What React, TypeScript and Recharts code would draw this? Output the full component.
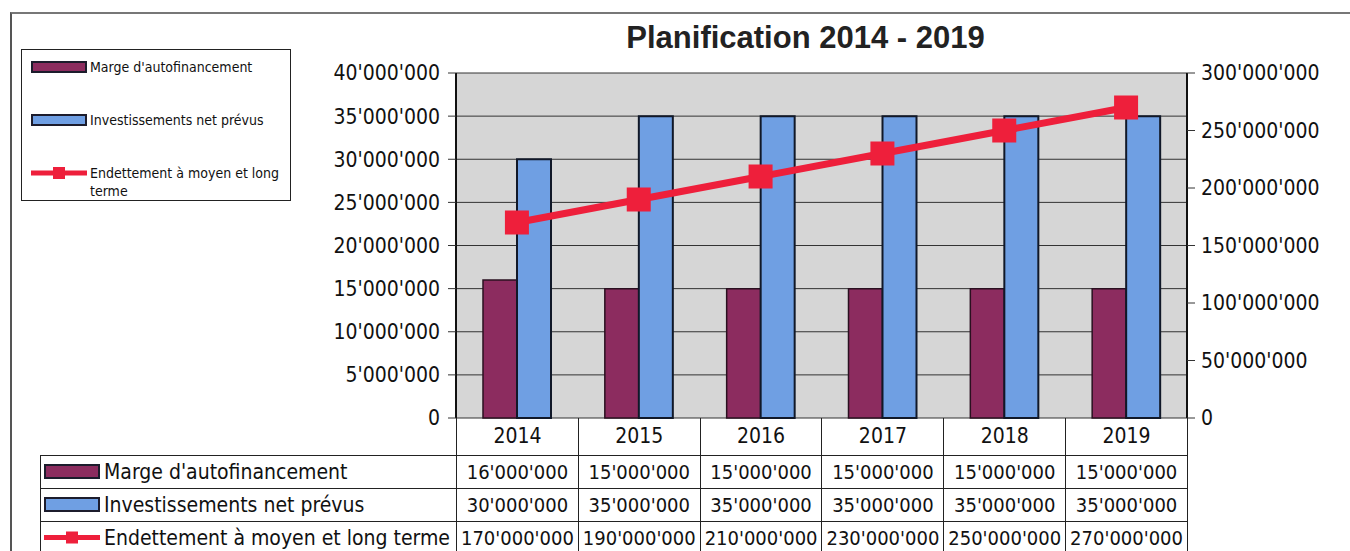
import React from 'react';
import { ComposedChart, Bar, Line, XAxis, YAxis, CartesianGrid } from 'recharts';

const years = ['2014', '2015', '2016', '2017', '2018', '2019'];
const marge = [16000000, 15000000, 15000000, 15000000, 15000000, 15000000];
const investissements = [30000000, 35000000, 35000000, 35000000, 35000000, 35000000];
const endettement = [170000000, 190000000, 210000000, 230000000, 250000000, 270000000];
const leftTicks = [0, 5000000, 10000000, 15000000, 20000000, 25000000, 30000000, 35000000, 40000000];
const rightTicks = [0, 50000000, 100000000, 150000000, 200000000, 250000000, 300000000];

const series = [
  { key: 'marge', name: "Marge d'autofinancement", color: '#8c2c5f', kind: 'bar', values: marge },
  { key: 'invest', name: 'Investissements net prévus', color: '#6f9fe3', kind: 'bar', values: investissements },
  { key: 'endet', name: 'Endettement à moyen et long terme', color: '#ee1f3b', kind: 'line', values: endettement },
];

const data = years.map((y, i) => ({
  year: y,
  marge: marge[i],
  invest: investissements[i],
  endet: endettement[i],
}));

const fmt = (n: number) => n.toString().replace(/\B(?=(\d{3})+(?!\d))/g, "'");

const AXIS_FONT = '"DejaVu Sans Condensed", "DejaVu Sans", sans-serif';

const SquareDot = (props: any) => {
  const { cx, cy } = props;
  if (cx == null || cy == null) return null;
  return <rect x={cx - 12} y={cy - 12} width={24} height={24} fill="#ee1f3b" />;
};

function Swatch({ s, w, h }: { s: any; w: number; h: number }) {
  if (s.kind === 'bar') {
    return (
      <svg width={w} height={h + 4} style={{ display: 'block' }}>
        <rect x={1} y={2} width={w - 2} height={h} fill={s.color} stroke="#1c1c2c" strokeWidth={2} />
      </svg>
    );
  }
  return (
    <svg width={w} height={h + 4} style={{ display: 'block' }}>
      <line x1={0} x2={w} y1={(h + 4) / 2} y2={(h + 4) / 2} stroke={s.color} strokeWidth={5} />
      <rect x={w / 2 - 6} y={(h + 4) / 2 - 6} width={12} height={12} fill={s.color} />
    </svg>
  );
}

const colW = 731 / 6;

export default function App() {
  return (
    <div style={{ position: 'absolute', left: 0, top: 0, width: 1350, height: 551, background: '#fff', overflow: 'hidden' }}>
      {/* page frame */}
      <div style={{ position: 'absolute', left: 10, top: 12, width: 1340, height: 540, borderTop: '2px solid #777', borderLeft: '2px solid #555' }} />
      <div
        style={{
          position: 'absolute',
          left: 440,
          width: 731,
          top: 20,
          textAlign: 'center',
          fontFamily: '"Liberation Sans", Arial, sans-serif',
          fontWeight: 'bold',
          fontSize: 31,
          color: '#222',
        }}
      >
        Planification 2014 - 2019
      </div>
      <div style={{ position: 'absolute', left: 0, top: 0 }}>
        <ComposedChart width={1350} height={551} data={data} margin={{ top: 73, right: 0, bottom: 133, left: 0 }} barGap={0} barSize={34}>
          <CartesianGrid vertical={false} stroke="#333" fill="#d6d6d6" yAxisId="left" />
          <XAxis dataKey="year" hide />
          <YAxis
            yAxisId="left"
            width={456}
            domain={[0, 40000000]}
            ticks={leftTicks}
            tickFormatter={fmt}
            tickSize={8}
            tickMargin={8}
            axisLine={{ stroke: '#111', strokeWidth: 2 }}
            tickLine={{ stroke: '#333' }}
            tick={{ fill: '#111', fontSize: 21, fontFamily: AXIS_FONT }}
            interval={0}
          />
          <YAxis
            yAxisId="right"
            orientation="right"
            width={163}
            domain={[0, 300000000]}
            ticks={rightTicks}
            tickFormatter={fmt}
            tickSize={8}
            tickMargin={6}
            axisLine={{ stroke: '#111', strokeWidth: 2 }}
            tickLine={{ stroke: '#333' }}
            tick={{ fill: '#111', fontSize: 21, fontFamily: AXIS_FONT }}
            interval={0}
          />
          <Bar yAxisId="left" dataKey="marge" name={series[0].name} fill={series[0].color} stroke="#2a1020" strokeWidth={1.5} isAnimationActive={false} />
          <Bar yAxisId="left" dataKey="invest" name={series[1].name} fill={series[1].color} stroke="#111828" strokeWidth={2} isAnimationActive={false} />
          <Line
            yAxisId="right"
            dataKey="endet"
            name={series[2].name}
            stroke={series[2].color}
            strokeWidth={7}
            dot={<SquareDot />}
            activeDot={false}
            isAnimationActive={false}
          />
        </ComposedChart>
      </div>
      {/* legend box */}
      <div
        style={{
          position: 'absolute',
          left: 21,
          top: 49,
          width: 270,
          height: 152,
          border: '1px solid #222',
          background: '#fff',
          fontFamily: AXIS_FONT,
          fontSize: 14,
          color: '#111',
          boxSizing: 'border-box',
        }}
      >
        {series.map((s, i) => (
          <div key={s.key} style={{ position: 'absolute', left: 9, top: 8 + i * 53, display: 'flex', alignItems: 'flex-start' }}>
            <div style={{ marginTop: 2 }}>
              <Swatch s={s} w={56} h={10} />
            </div>
            <div style={{ marginLeft: 3, width: 195, lineHeight: '18px' }}>{s.name}</div>
          </div>
        ))}
      </div>
      {/* data table */}
      <table
        style={{
          position: 'absolute',
          left: 40,
          top: 418,
          borderCollapse: 'collapse',
          tableLayout: 'fixed',
          fontFamily: AXIS_FONT,
          fontSize: 20,
          color: '#111',
        }}
      >
        <colgroup>
          <col style={{ width: 416 }} />
          {years.map((y) => (
            <col key={y} style={{ width: colW }} />
          ))}
        </colgroup>
        <tbody>
          <tr style={{ height: 37 }}>
            <td style={{ padding: 0 }} />
            {years.map((y) => (
              <td key={y} style={{ border: '1px solid #222', borderTop: 'none', textAlign: 'center', padding: 0, fontSize: 21 }}>
                {y}
              </td>
            ))}
          </tr>
          {series.map((s) => (
            <tr key={s.key} style={{ height: 33 }}>
              <td style={{ border: '1px solid #222', padding: '0 0 0 3px', whiteSpace: 'nowrap', fontSize: 21 }}>
                <div style={{ display: 'flex', alignItems: 'center' }}>
                  <Swatch s={s} w={56} h={13} />
                  <span style={{ marginLeft: 4 }}>{s.name}</span>
                </div>
              </td>
              {s.values.map((v, i) => (
                <td key={i} style={{ border: '1px solid #222', textAlign: 'center', padding: 0, whiteSpace: 'nowrap' }}>
                  {fmt(v)}
                </td>
              ))}
            </tr>
          ))}
        </tbody>
      </table>
    </div>
  );
}
